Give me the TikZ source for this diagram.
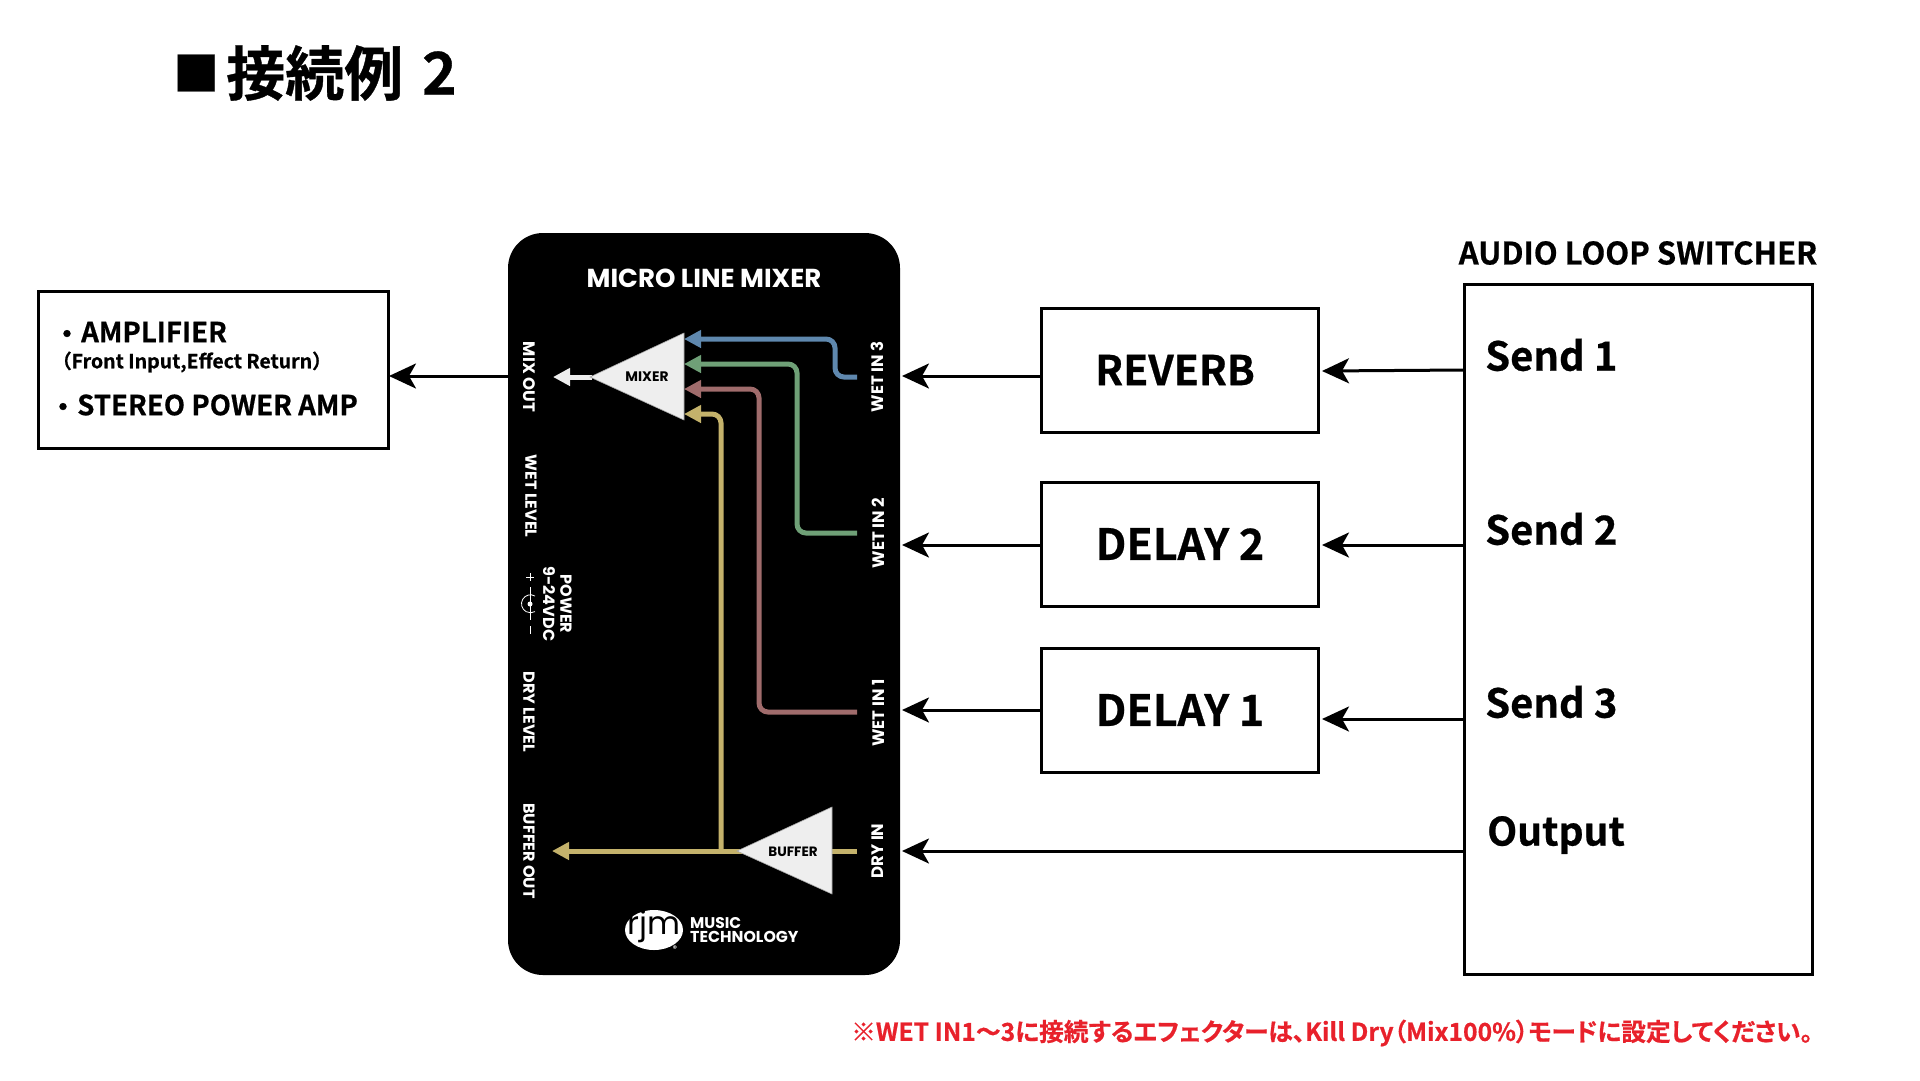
\documentclass[tikz,border=0pt]{standalone}
\usepackage{fontspec}
\usetikzlibrary{arrows.meta,shapes.geometric}
\setmainfont{Noto Sans CJK JP}[BoldFont={Noto Sans CJK JP Bold}]
\newfontfamily\jpb{Noto Sans CJK JP Bold}[FakeBold=0.6]
\newfontfamily\jpn{Noto Sans CJK JP Bold}[RawFeature=+palt,FakeBold=0.6]
\newfontfamily\fut{Poppins}[UprightFont={* Bold}]
\newfontfamily\futl{Poppins}
\definecolor{sigblue}{HTML}{5F88AE}
\definecolor{siggreen}{HTML}{6FA077}
\definecolor{sigred}{HTML}{A06C6C}
\definecolor{sigyellow}{HTML}{C4B26B}
\definecolor{tri}{HTML}{EEEEEE}
\definecolor{noteRed}{HTML}{E8212B}
\newcommand{\fs}[1]{\fontsize{#1}{#1}\selectfont}
\tikzset{
  box/.style={draw=black,line width=3pt,fill=white,inner sep=0pt,rectangle},
  link/.style={line width=3pt,-{Stealth[length=27pt,width=25pt,inset=7pt]}},
  boxtxt/.style={font=\jpb\fs{43},inner sep=0pt,text=black},
  sendtxt/.style={font=\jpb\fs{40},inner sep=0pt,anchor=west,text=black},
  amptxt/.style={font=\jpb\fs{27.6},inner sep=0pt,anchor=west,text=black},
  lab/.style={font=\fut\fs{16.6},text=white,inner sep=0pt},
  labL/.style={lab,rotate=-90},
  labR/.style={lab,rotate=90},
  sig/.style={line width=5pt,rounded corners=9pt,-{Triangle[length=17pt,width=17pt]}},
  amptri/.style={fill=tri,draw=gray!70,line width=.6pt},
}
\begin{document}
\begin{tikzpicture}[x=1pt,y=-1pt]
\useasboundingbox (0,0) rectangle (1920,1080);
% title
\node[font=\jpb\fs{46},anchor=west,inner sep=0pt] (tsq) at (173,73) {■};
\node[font=\jpb\fs{59},anchor=west,inner sep=0pt] (title) at (226,73) {接続例};
\node[font=\jpb\fs{59},anchor=east,inner sep=0pt] (title2) at (457,73) {2};
% panel
\node[fill=black,rounded corners=35pt,minimum width=392pt,minimum height=742pt,inner sep=0pt] (panel) at (704,604) {};
% boxes
\node[box,minimum width=350pt,minimum height=157pt] (amp) at (213,369.5) {};
\node[box,minimum width=277pt,minimum height=124pt] (reverb) at (1180,370) {};
\node[box,minimum width=277pt,minimum height=124pt] (delay2) at (1180,544) {};
\node[box,minimum width=277pt,minimum height=124pt] (delay1) at (1180,710.5) {};
\node[box,minimum width=348pt,minimum height=690pt] (switch) at (1638,629.5) {};
\node[boxtxt,font=\jpb\fs{41}] (treverb) at (1175,370) {REVERB};
\node[boxtxt] (tdelay2) at (1180,544) {DELAY 2};
\node[boxtxt] (tdelay1) at (1180,710) {DELAY 1};
\node[font=\jpb\fs{31},inner sep=0pt] (tswitch) at (1638,253) {AUDIO LOOP SWITCHER};
\node[sendtxt] (s1) at (1485,355) {Send 1};
\node[sendtxt] (s2) at (1485,529) {Send 2};
\node[sendtxt] (s3) at (1485,702) {Send 3};
\node[sendtxt,font=\jpb\fs{39}] (s4) at (1487,835) {Output};
% amp text
\node[amptxt] (a0) at (53,337) {・};
\node[amptxt] (a1) at (81,332) {AMPLIFIER};
\node[font=\jpb\fs{19.5},inner sep=0pt,anchor=west] (a2) at (52,362) {（Front Input,Effect Return）};
\node[amptxt] (a3) at (49,410) {・};
\node[amptxt] (a4) at (77,405) {STEREO POWER AMP};
% ports
\coordinate (pOut) at (508,376);
\coordinate (pW3) at (902,376);
\coordinate (pW2) at (902,545);
\coordinate (pW1) at (902,710);
\coordinate (pDry) at (902,851);
\coordinate (rOut) at (1042,376);
\coordinate (dOut2) at (1042,545);
\coordinate (dOut1) at (1042,710);
\coordinate (sS1) at (1464,370);
\coordinate (sS2) at (1464,545);
\coordinate (sS3) at (1464,719);
\coordinate (sOut) at (1464,851);
\coordinate (rIn) at (1322,371);
\coordinate (d2In) at (1322,545);
\coordinate (d1In) at (1322,719);
\coordinate (aIn) at (389,376);
% links
\draw[link] (pOut) -- (aIn);
\draw[link] (rOut) -- (pW3);
\draw[link] (dOut2) -- (pW2);
\draw[link] (dOut1) -- (pW1);
\draw[link] (sOut) -- (pDry);
\draw[link] (sS1) -- (rIn);
\draw[link] (sS2) -- (d2In);
\draw[link] (sS3) -- (d1In);
% signal lines
\coordinate (iW3) at (857,377);
\coordinate (iW2) at (857,533);
\coordinate (iW1) at (857,712);
\coordinate (iDry) at (857,851);
\coordinate (mB) at (684,339);
\coordinate (mG) at (684,364);
\coordinate (mR) at (684,389);
\coordinate (mY) at (684,414);
\coordinate (bOut) at (552,851);
\coordinate (mOut) at (553,377);
\coordinate (mTip) at (592,377);
\draw[sig,draw=sigblue] (iW3) -- (835,377) -- (835,339) -- (mB);
\draw[sig,draw=siggreen] (iW2) -- (797,533) -- (797,364) -- (mG);
\draw[sig,draw=sigred] (iW1) -- (759,712) -- (759,389) -- (mR);
\draw[sig,draw=sigyellow] (721,851) -- (721,414) -- (mY);
\draw[sig,draw=sigyellow] (iDry) -- (bOut);
\draw[line width=5pt,draw=tri,-{Triangle[length=17pt,width=17pt]}] (mTip) -- (mOut);
% triangles
\draw[amptri] (590,377) -- (684,333) -- (684,420) -- cycle;
\draw[amptri] (737,851) -- (832,807) -- (832,894) -- cycle;
\node[font=\fut\fs{13.8},inner sep=0pt] (tmix) at (647,377) {MIXER};
\node[font=\fut\fs{13.5},inner sep=0pt] (tbuf) at (793,852) {BUFFER};
% panel labels
\node[lab,font=\fut\fs{26}] (tmlm) at (704,278) {MICRO LINE MIXER};
\node[labL] (l1) at (529,377) {MIX OUT};
\node[labL,font=\fut\fs{16}] (l2) at (531,496) {WET LEVEL};
\node[labL,font=\fut\fs{16}] (l3) at (529,712) {DRY LEVEL};
\node[labL,font=\fut\fs{16}] (l4) at (529,851) {BUFFER OUT};
\node[lab,rotate=-90,font=\fut\fs{16}] (l5) at (566,604) {POWER};
\node[lab,rotate=-90,font=\fut\fs{16}] (l6) at (549,604) {9-24VDC};
\node[labR] (r1) at (877,377) {WET IN 3};
\node[labR] (r2) at (878,533) {WET IN 2};
\node[labR] (r3) at (878,713) {WET IN 1};
\node[labR] (r4) at (878,851) {DRY IN};
% power symbol
\draw[white,line width=.7pt] (530,573) -- (530,581) (526,577) -- (534,577) (530,587) -- (530,620) (530,626) -- (530,634);
\draw[white,line width=.8pt] (535,596) arc (-60:-300:9);
\fill[white] (530,604) circle (2.5);
% logo
\node[ellipse,fill=white,minimum width=58pt,minimum height=40pt,inner sep=0pt] (logo) at (654,930) {};
\node[font=\futl\fs{32},text=black,inner sep=0pt] (tlogo) at (654,926) {rjm};
\node[lab,font=\fut\fs{15.5},anchor=west] (tmus) at (690,923) {MUSIC};
\node[lab,font=\fut\fs{15.8},anchor=west] (ttec) at (690,937) {TECHNOLOGY};
\node[lab,font=\fut\fs{8}] (treg) at (675,949) {®};
% note
\node[font=\jpn\fs{24.7},text=noteRed,inner sep=0pt,anchor=west] (note) at (851,1033) {※WET IN1～3に接続するエフェクターは、Kill Dry（Mix100\%）モードに設定してください。};
\end{tikzpicture}
\end{document}
